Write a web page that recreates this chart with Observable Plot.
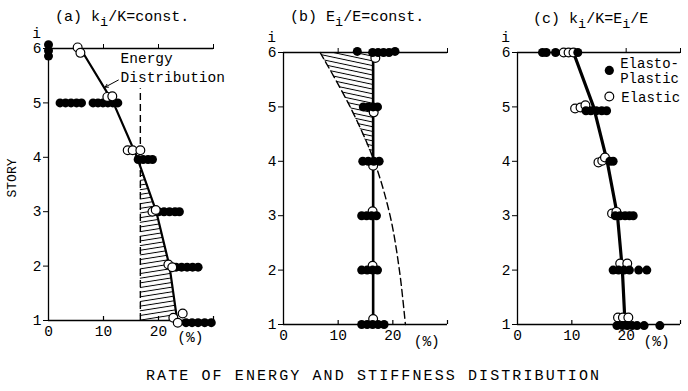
<!DOCTYPE html>
<html><head><meta charset="utf-8">
<script src="https://cdn.jsdelivr.net/npm/d3@7"></script>
<script src="https://cdn.jsdelivr.net/npm/@observablehq/plot@0.6"></script>
<style>
body{margin:0;background:#fff;}
#wrap{position:relative;width:688px;height:391px;overflow:hidden;font-family:"Liberation Mono",monospace;color:#000;background:#fff;}
.panel{position:absolute;top:0;}
.panel svg{overflow:visible;background:transparent !important;}
.ttl{position:absolute;font-size:15px;white-space:nowrap;line-height:17px;}
.ttl sub{font-size:0.9em;vertical-align:-0.4em;line-height:0;}
#cap{position:absolute;left:146px;top:368px;font-size:15px;letter-spacing:2.1px;white-space:nowrap;}
#story{position:absolute;left:12px;top:178px;font-size:13px;transform:translate(-50%,-50%) rotate(-90deg);white-space:nowrap;}
</style></head><body>
<div id="wrap">
  <div class="panel" id="pa" style="left:0px"></div>
  <div class="panel" id="pb" style="left:230px"></div>
  <div class="panel" id="pc" style="left:460px"></div>
  <div class="ttl" style="left:55px;top:9px">(a) k<sub>i</sub>/K=const.</div>
  <div class="ttl" style="left:290px;top:9px">(b) E<sub>i</sub>/E=const.</div>
  <div class="ttl" style="left:533px;top:11px">(c) k<sub>i</sub>/K=E<sub>i</sub>/E</div>
  <div id="story">STORY</div>
  <div id="cap">RATE OF ENERGY AND STIFFNESS DISTRIBUTION</div>
</div>
<script>
// ---------- data ----------
const stories = [6, 5, 4, 3, 2, 1];
const xTickLabels = [0, 10, 20];
const frameTicks = [10, 20, 30];

// (a) k_i/K = const.
const aLine = [5.8, 11.8, 16.1, 19.6, 22.0, 23.4];
const aStiffness = 16.7;
const aStiffnessTop = 5.26;
const aFilledX = [0, 0, 0,
  2.1, 3.1, 4.1, 5.1, 6.0, 8.1, 9.0, 9.9, 10.8, 11.7, 12.6,
  16.3, 17.2, 18.1, 18.9,
  20.0, 21.0, 22.0, 23.0, 23.8,
  23.2, 24.2, 25.2, 26.2, 27.2,
  25.0, 26.1, 27.2, 28.4, 29.6];
const aFilledY = [6.07, 5.96, 5.86,
  5, 5, 5, 5, 5, 5, 5, 5, 5, 5, 5,
  3.96, 3.96, 3.96, 3.96,
  3, 3, 3, 3, 3,
  1.98, 1.98, 1.98, 1.98, 1.98,
  0.96, 0.96, 0.96, 0.96, 0.96];
const aOpenX = [5.3, 5.8, 10.7, 11.6, 14.4, 15.3, 16.7, 18.9, 19.5, 21.8, 22.5, 22.7, 24.4, 23.5];
const aOpenY = [6.02, 5.92, 5.11, 5.12, 4.13, 4.13, 4.13, 3.0, 3.03, 2.03, 1.98, 1.05, 1.13, 0.96];

// (b) E_i/E = const.
const bLine = [16.4, 16.4, 16.4, 16.4, 16.4, 16.4];
const bCurve = [6.7, 12.2, 16.6, 19.5, 21.2, 22.3];
const bFilledX = [13.5, 16.3, 17.3, 18.3, 19.3, 20.4,
  14.6, 15.5, 16.4, 17.2,
  14.5, 15.5, 16.5, 17.5,
  14.3, 15.2, 16.1, 17.0,
  14.3, 15.3, 16.3, 17.2,
  14.3, 15.3, 16.3, 17.3, 18.4];
const bFilledY = [6.02, 6, 6, 6, 6, 6.02,
  5, 5, 5, 5,
  4, 4, 4, 4,
  3, 3, 3, 3,
  2, 2, 2, 2,
  1, 1, 1, 1, 1];
const bOpenX = [16.8, 16.5, 16.4, 16.3, 16.3, 16.4];
const bOpenY = [5.9, 4.9, 3.92, 3.08, 2.08, 1.1];

// (c) k_i/K = E_i/E
const cLine = [10.3, 14.0, 16.5, 18.4, 19.3, 19.8];
const cFilledX = [4.6, 5.3, 7.0, 11.1,
  12.6, 13.5, 14.5, 15.5, 16.4,
  17.0, 17.6,
  18.0, 18.9, 19.8, 20.6, 21.3,
  17.6, 18.6, 19.6, 20.6, 22.3, 23.8,
  18.3, 19.3, 20.2, 21.1, 22.0, 23.3, 26.2];
const cFilledY = [6, 6, 6, 6,
  4.93, 4.93, 4.93, 4.93, 4.93,
  4, 4,
  3, 3, 3, 3, 3,
  2, 2, 2, 2, 2, 2,
  0.98, 0.98, 0.98, 0.98, 0.98, 0.98, 0.98];
const cOpenX = [8.5, 9.4, 10.3, 10.6, 11.6, 12.5, 14.9, 15.6, 16.1, 17.4, 18.2, 18.9, 20.2, 18.5, 19.4, 20.4];
const cOpenY = [6, 6, 6, 4.97, 4.99, 5.03, 3.98, 4.01, 4.07, 3.04, 3.07, 2.12, 2.12, 1.13, 1.13, 1.13];

const legendLabels = ["Elasto-", "Plastic", "Elastic"];

// ---------- helpers ----------
const FONT = "Liberation Mono, monospace";
const pts = (xs, ys) => xs.map((x, i) => ({x, y: ys[i]}));
const lineData = (vals) => stories.map((s, i) => ({x: vals[i], y: s}));

function frameMarks(pctX) {
  return [
    Plot.ruleX([0], {y1: 1, y2: 6, strokeWidth: 1.3}),
    Plot.ruleY([6, 1], {x1: 0, x2: 30, strokeWidth: 1.3}),
    Plot.axisY({ticks: stories, tickSize: 5, tickPadding: 2, label: null, tickFormat: d => String(d)}),
    Plot.axisX({anchor: "top", ticks: frameTicks, tickSize: 5, label: null, tickFormat: () => ""}),
    Plot.ruleX(frameTicks, {y1: 1, y2: 1, insetTop: -4, strokeWidth: 1.2}),
    Plot.axisX({anchor: "bottom", ticks: xTickLabels, tickSize: 0, tickPadding: 5, label: null}),
    Plot.text(["(%)"], {x: pctX, y: 1, dy: 17, text: d => d}),
    Plot.text(["i"], {x: 0, y: 6, dx: -12, dy: -15, text: d => d})
  ];
}

function make(el, opts, marks, hatchId, angle) {
  const svg = Plot.plot({
    width: opts.width, height: 391,
    marginLeft: opts.ml, marginRight: opts.mr, marginTop: opts.mt, marginBottom: opts.mb,
    x: {domain: [0, 30]},
    y: {domain: [1, 6]},
    style: {fontFamily: FONT, fontSize: "14.5px", background: "transparent", color: "#000"},
    marks
  });
  if (hatchId) {
    const ns = "http://www.w3.org/2000/svg";
    const defs = document.createElementNS(ns, "defs");
    defs.innerHTML = `<pattern id="${hatchId}" patternUnits="userSpaceOnUse" width="8" height="4.6" patternTransform="rotate(${angle})"><path d="M-1,2.3H9" stroke="#000" stroke-width="1"/></pattern>`;
    svg.insertBefore(defs, svg.firstChild);
  }
  document.getElementById(el).appendChild(svg);
}

// ---------- panel (a) ----------
{
  let k = aLine.findIndex(v => v > aStiffness);
  const t = (aStiffness - aLine[k - 1]) / (aLine[k] - aLine[k - 1]);
  const yCross = stories[k - 1] - t;
  const hatch = [{y: yCross, x2: aStiffness}].concat(stories.slice(k).map((s, j) => ({y: s, x2: aLine[k + j]})));
  make("pa", {width: 230, ml: 48, mr: 17, mt: 48, mb: 71}, [
    Plot.areaX(hatch, {y: "y", x1: aStiffness, x2: "x2", fill: "url(#hatchA)"}),
    ...frameMarks(25.8),
    Plot.ruleX([aStiffness], {y1: 1, y2: aStiffnessTop, strokeDasharray: "7,4", strokeWidth: 1.4}),
    Plot.line(lineData(aLine), {x: "x", y: "y", strokeWidth: 2.2}),
    Plot.text(["Energy", "Distribution"], {x: [13.1, 13.1], y: [5.82, 5.47], text: d => d, textAnchor: "start", fontSize: 14.5}),
    Plot.arrow([0], {x1: 12.7, y1: 5.42, x2: 10.3, y2: 5.29, headLength: 5, strokeWidth: 1}),
    Plot.dot(pts(aFilledX, aFilledY), {x: "x", y: "y", r: 4.5, fill: "#000", stroke: "none"}),
    Plot.dot(pts(aOpenX, aOpenY), {x: "x", y: "y", r: 4.4, fill: "#fff", stroke: "#000", strokeWidth: 1.2})
  ], "hatchA", -9);
}

// ---------- panel (b) ----------
{
  let k = bCurve.findIndex((v, i) => v > bLine[i]);
  const t = (bLine[k] - bCurve[k - 1]) / (bCurve[k] - bCurve[k - 1]);
  const hatch = stories.slice(0, k).map((s, i) => ({y: s, x1: bCurve[i], x2: bLine[i]}))
    .concat([{y: stories[k - 1] - t, x1: bLine[k], x2: bLine[k]}]);
  make("pb", {width: 230, ml: 53, mr: 13, mt: 52, mb: 67}, [
    Plot.areaX(hatch, {y: "y", x1: "x1", x2: "x2", fill: "url(#hatchB)", curve: "catmull-rom"}),
    ...frameMarks(26.2),
    Plot.line(lineData(bCurve), {x: "x", y: "y", curve: "catmull-rom", strokeDasharray: "7,4", strokeWidth: 1.4}),
    Plot.line(lineData(bLine), {x: "x", y: "y", strokeWidth: 2.6}),
    Plot.dot(pts(bOpenX, bOpenY), {x: "x", y: "y", r: 4.4, fill: "#fff", stroke: "#000", strokeWidth: 1.2}),
    Plot.dot(pts(bFilledX, bFilledY), {x: "x", y: "y", r: 4.5, fill: "#000", stroke: "none"})
  ], "hatchB", 12);
}

// ---------- panel (c) ----------
make("pc", {width: 228, ml: 57, mr: 8, mt: 52, mb: 67}, [
  ...frameMarks(25.6),
  Plot.line(lineData(cLine), {x: "x", y: "y", strokeWidth: 3.2}),
  Plot.dot(pts(cOpenX, cOpenY), {x: "x", y: "y", r: 4.4, fill: "#fff", stroke: "#000", strokeWidth: 1.2}),
  Plot.dot(pts(cFilledX, cFilledY), {x: "x", y: "y", r: 4.5, fill: "#000", stroke: "none"}),
  Plot.dot([0], {x: 16.9, y: 5.67, r: 4.6, fill: "#000"}),
  Plot.dot([0], {x: 16.9, y: 5.19, r: 4.4, fill: "#fff", stroke: "#000", strokeWidth: 1.2}),
  Plot.text(legendLabels, {x: [18.9, 18.9, 19.1], y: [5.79, 5.52, 5.17], text: d => d, textAnchor: "start", fontSize: 14})
]);
</script>
</body></html>
